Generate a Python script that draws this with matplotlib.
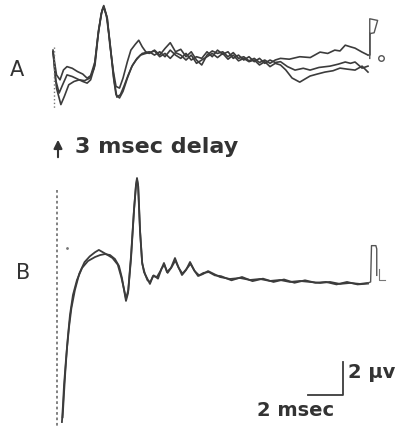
import matplotlib
matplotlib.use("Agg")
import matplotlib.pyplot as plt

# ---- data (time in ms, amplitude in microvolts) ----
a_t1 = [0.0, 0.2, 0.4, 0.6, 0.8, 1.1, 1.4, 1.7, 1.95, 2.15, 2.4, 2.6, 2.8, 2.9, 3.1, 3.25, 3.45, 3.6, 3.8, 4.0,
        4.25, 4.45, 4.7, 4.9, 5.1, 5.3, 5.5, 5.8, 6.1, 6.4, 6.7, 7.0, 7.3, 7.6, 7.9, 8.2, 8.5, 8.8, 9.1, 9.4,
        9.7, 10.0, 10.3, 10.6, 10.9, 11.2, 11.5, 11.8, 12.1, 12.4, 12.7, 13.0, 13.5, 14.1, 14.7, 15.26, 15.7,
        16.1, 16.4, 16.7, 17.0, 17.26, 17.66, 18.0]
a_v1 = [0.2, -1.2, -1.5, -0.9, -0.7, -0.8, -1.0, -1.15, -1.4, -1.25, -0.4, 1.5, 2.7, 3.0, 2.25, 0.6, -1.0, -1.9, -2.0, -1.4,
        -0.4, 0.3, 0.65, 0.9, 0.5, 0.2, 0.1, 0.3, 0.0, 0.4, 0.75, 0.2, 0.35, -0.1, 0.2, -0.3, -0.6, 0.0, 0.25, 0.1,
        0.2, -0.1, 0.15, -0.2, -0.1, -0.35, -0.2, -0.45, -0.3, -0.5, -0.3, -0.2, -0.25, -0.1, -0.15, 0.18, 0.1,
        0.3, 0.25, 0.6, 0.5, 0.42, 0.18, 0.0]

a_t2 = [0.0, 0.15, 0.35, 0.55, 0.8, 1.1, 1.4, 1.7, 1.95, 2.15, 2.4, 2.6, 2.8, 2.9, 3.1, 3.3, 3.5, 3.65, 3.85, 4.05,
        4.3, 4.55, 4.8, 5.1, 5.3, 5.5, 5.8, 6.1, 6.4, 6.7, 7.0, 7.3, 7.6, 7.9, 8.2, 8.5, 8.8, 9.1, 9.4,
        9.7, 10.0, 10.3, 10.6, 10.9, 11.2, 11.5, 11.8, 12.1, 12.4, 12.7, 13.0, 13.4, 13.83, 14.3, 14.69, 15.2,
        15.83, 16.3, 16.7, 17.0, 17.26, 17.66, 18.0]
a_v2 = [0.2, -1.5, -2.3, -1.8, -1.2, -1.3, -1.45, -1.6, -1.7, -1.5, -0.6, 1.4, 2.7, 2.95, 2.2, 0.3, -1.6, -2.55, -2.4, -1.9,
        -1.2, -0.6, -0.2, 0.1, 0.15, 0.2, 0.0, 0.2, -0.1, 0.3, 0.0, -0.2, 0.1, -0.3, -0.1, -0.2, 0.2, -0.1, 0.3,
        0.05, 0.2, -0.2, 0.0, -0.3, -0.1, -0.4, -0.2, -0.5, -0.3, -0.45, -0.4, -0.7, -0.91, -0.8, -0.91, -0.75,
        -0.67, -0.55, -0.42, -0.5, -0.42, -0.79, -0.67]

a_t3 = [0.0, 0.2, 0.45, 0.65, 0.9, 1.2, 1.5, 1.8, 2.1, 2.35, 2.55, 2.75, 2.9, 3.05, 3.25, 3.45, 3.6, 3.8, 4.0,
        4.25, 4.5, 4.75, 5.0, 5.3, 5.5, 5.8, 6.1, 6.4, 6.7, 7.0, 7.3, 7.6, 7.9, 8.2, 8.5, 8.8, 9.1, 9.4,
        9.7, 10.0, 10.3, 10.6, 10.9, 11.2, 11.5, 11.8, 12.1, 12.4, 12.7, 13.0, 13.3, 13.66, 14.1, 14.4, 14.69,
        15.1, 15.54, 16.0, 16.4, 16.8, 17.26, 17.66, 18.0]
a_v3 = [0.3, -2.0, -3.0, -2.5, -1.8, -1.6, -1.5, -1.55, -1.4, -0.8, 1.0, 2.5, 2.9, 2.4, 0.8, -1.3, -2.4, -2.6, -2.2,
        -1.4, -0.7, -0.3, 0.0, 0.1, 0.15, 0.25, -0.1, 0.1, -0.2, 0.15, 0.0, -0.3, 0.0, -0.5, -0.3, -0.1, 0.1, -0.15,
        0.1, -0.25, 0.0, -0.35, -0.2, -0.4, -0.3, -0.6, -0.4, -0.7, -0.5, -0.6, -0.9, -1.39, -1.64, -1.45, -1.27,
        -1.15, -1.03, -0.95, -0.79, -0.85, -0.91, -0.67, -1.03]

b_t1 = [0.51, 0.57, 0.63, 0.74, 0.86, 0.97, 1.14, 1.37, 1.66, 2.0, 2.4, 2.69, 2.97, 3.26, 3.54, 3.77, 3.94, 4.06,
        4.17, 4.29, 4.46, 4.63, 4.74, 4.8, 4.86, 4.97, 5.09, 5.2, 5.37, 5.54, 5.71, 5.94, 6.17, 6.34, 6.51, 6.74,
        6.97, 7.14, 7.37, 7.6, 7.83, 8.06, 8.29, 8.57, 8.86, 9.2, 9.54, 10.11, 10.69, 11.26, 11.83, 12.4, 12.97,
        13.54, 14.11, 14.69, 15.26, 15.83, 16.4, 16.97, 17.54, 18.0]
b_v1 = [-8.79, -7.76, -6.55, -5.03, -3.52, -2.3, -1.09, -0.18, 0.55, 0.97, 1.21, 1.33, 1.39, 1.33, 1.09, 0.67, -0.06, -0.79,
        -1.45, -0.97, 1.15, 4.06, 5.58, 6.0, 5.58, 2.85, 0.91, 0.3, -0.06, -0.42, 0.06, 0.0, 0.42, 0.85, 0.3, 0.55,
        1.15, 0.67, 0.12, 0.42, 0.91, 0.42, 0.06, 0.18, 0.36, 0.18, 0.0, -0.12, -0.06, -0.18, -0.12, -0.24, -0.18,
        -0.3, -0.24, -0.3, -0.36, -0.3, -0.42, -0.36, -0.42, -0.36]

b_t2 = [0.55, 0.62, 0.7, 0.8, 0.92, 1.05, 1.25, 1.5, 1.8, 2.1, 2.4, 2.62, 2.85, 3.1, 3.4, 3.7, 3.9, 4.05,
        4.17, 4.3, 4.46, 4.63, 4.74, 4.8, 4.87, 4.98, 5.1, 5.25, 5.4, 5.56, 5.75, 6.0, 6.2, 6.36, 6.55, 6.78,
        6.99, 7.18, 7.4, 7.64, 7.86, 8.1, 8.35, 8.6, 8.9, 9.25, 9.6, 10.2, 10.8, 11.4, 12.0, 12.6, 13.2,
        13.8, 14.4, 15.0, 15.6, 16.2, 16.8, 17.4, 18.0]
b_v2 = [-8.5, -7.2, -5.8, -4.3, -3.0, -1.9, -0.8, 0.2, 0.9, 1.25, 1.5, 1.64, 1.5, 1.35, 1.15, 0.75, 0.0, -0.7,
        -1.3, -0.8, 1.3, 4.1, 5.5, 5.9, 5.5, 2.7, 0.8, 0.2, -0.2, -0.3, 0.1, -0.1, 0.5, 0.75, 0.25, 0.6,
        1.0, 0.55, 0.2, 0.5, 0.8, 0.35, 0.1, 0.25, 0.3, 0.1, 0.05, -0.2, 0.0, -0.25, -0.1, -0.3, -0.15,
        -0.35, -0.2, -0.35, -0.3, -0.45, -0.3, -0.45, -0.4]

# stimulus artifacts (dotted verticals)
stim_a_t = [0.05, 0.05]
stim_a_v = [0.5, -3.2]
stim_b_t = [0.23, 0.23]
stim_b_v = [5.3, -9.0]

# calibration pulses at end of sweeps
cal_a_t = [18.0, 18.1, 18.1, 18.55, 18.35, 18.1, 18.1]
cal_a_v = [0.0, 0.0, 2.2, 2.1, 1.35, 1.3, -0.2]
cal_b_t = [18.0, 18.15, 18.2, 18.45, 18.5, 18.5]
cal_b_v = [-0.36, -0.3, 1.9, 1.9, 1.7, 0.1]

scale_ms = 2.0
scale_uv = 2.0

A_OFFSET = 13.45
ink = "#3c3c3c"

fig = plt.figure(figsize=(3.96, 4.32), dpi=100)
ax = fig.add_axes([0, 0, 1, 1])
ax.set_xlim(-53 / 17.5, 343 / 17.5)
ax.set_ylim(-155 / 16.5, 277 / 16.5)
ax.axis("off")

for t, v in [(a_t1, a_v1), (a_t2, a_v2), (a_t3, a_v3)]:
    ax.plot(t, [x + A_OFFSET for x in v], color=ink, lw=1.2, solid_joinstyle="round")
ax.plot(stim_a_t, [x + A_OFFSET for x in stim_a_v], color="#777777", lw=1.0, ls=":")
ax.plot(cal_a_t, [x + A_OFFSET for x in cal_a_v], color="#555555", lw=1.0)
ax.plot([18.75], [A_OFFSET - 0.2], marker="o", ms=4, mfc="none", mec="#555555", mew=1.0)

for t, v in [(b_t1, b_v1), (b_t2, b_v2)]:
    ax.plot(t, v, color=ink, lw=1.3, solid_joinstyle="round")
ax.plot(stim_b_t, stim_b_v, color="#777777", lw=1.3, ls=(0, (1.5, 1.5)))
ax.plot([0.8], [1.76], marker=".", ms=2, color="#777777")
ax.plot(cal_b_t, cal_b_v, color="#555555", lw=1.0)
ax.plot([18.6, 18.6, 18.95], [0.5, -0.2, -0.2], color="#777777", lw=0.8)

# scale bar
x0, y0 = 14.57, -7.15
ax.plot([x0, x0 + scale_ms, x0 + scale_ms], [y0, y0, y0 + scale_uv], color=ink, lw=1.3)

def px(x, y):
    return (x / 396, 1 - y / 432)

txt = "#333333"
fig.text(*px(10, 70), "A", fontsize=15, color=txt, va="center", ha="left")
fig.text(*px(16, 273), "B", fontsize=15, color=txt, va="center", ha="left")
fig.text(*px(75, 147), "3 msec delay", fontsize=16, fontweight="bold", color=txt, va="center", ha="left")
fig.text(*px(257, 410), "2 msec", fontsize=14, fontweight="bold", color=txt, va="center", ha="left")
fig.text(*px(348, 372), "2 \u03bcv", fontsize=14, fontweight="bold", color=txt, va="center", ha="left")
fig.add_artist(plt.matplotlib.patches.FancyArrowPatch(px(58, 160), px(58, 137), transform=fig.transFigure,
                                                     arrowstyle="-|>,head_width=2.5,head_length=5",
                                                     color=txt, lw=1.5))

fig.savefig("out.png", dpi=100, facecolor="white")
